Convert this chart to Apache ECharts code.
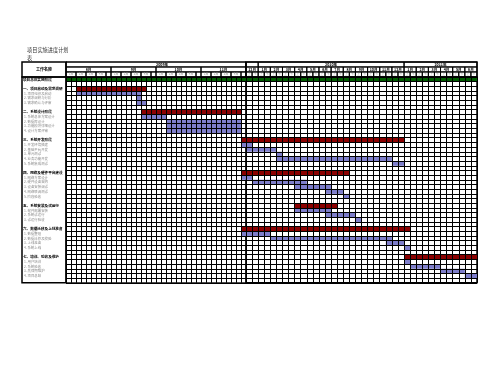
<!DOCTYPE html>
<html><head><meta charset="utf-8">
<script src="https://cdn.jsdelivr.net/npm/echarts@6/dist/echarts.min.js"></script>
<style>html,body{margin:0;padding:0;background:#fff}#c{width:495px;height:383px}</style>
</head><body><div id="c"></div>
<script>
// ---------------- data ----------------
const titleLine1 = '项目实施进度计划';
const titleLine2 = '表';
const headerLabel = '工作名称';
const yearLabels = ['2009年', '2010年', '2011年'];
const monthsPerYear = [5, 12, 6];
const monthLabels = ['8月','9月','10月','11月','12月',
  '1月','2月','3月','4月','5月','6月','7月','8月','9月','10月','11月','12月',
  '1月','2月','3月','4月','5月','6月'];
const colsPerMonth = [9,9,9,9, 2,2,2,2,2,2,2,2,2,2,2,2,2,2,2,2,2,2,2];
const detailWeekLabels = ['1周','2周','3周','4周',''];
const detailWeekSpans = [2,2,2,2,1];
const halfMonthLabels = ['上','下'];

const rowLabels = [
  '项目总体实施阶段', '',
  '一、项目启动及需求调研', '1. 项目组织及启动', '2. 需求调研与分析', '3. 需求确认与评审', '',
  '二、系统设计阶段', '1. 系统总体方案设计', '2. 数据库设计', '3. 功能模块详细设计', '4. 设计方案评审', '',
  '三、系统开发阶段', '1. 开发环境搭建', '2. 基础平台开发', '3. 单元测试', '4. 业务功能开发', '5. 系统集成测试', '',
  '四、网络及硬件平台建设', '1. 网络方案设计', '2. 硬件设备采购', '3. 设备安装调试', '4. 网络联调测试', '5. 阶段验收', '',
  '五、系统安装及试运行', '1. 软件部署安装', '2. 系统试运行', '3. 试运行验收', '',
  '六、数据迁移及上线准备', '1. 数据整理', '2. 数据迁移及校验', '3. 上线准备', '4. 系统上线', '',
  '七、培训、验收及维护', '1. 用户培训', '2. 系统验收', '3. 质保期维护', '4. 项目总结', ''
];
// 0 = phase, 1 = group, 2 = task, -1 = blank
const rowKinds = [0,-1, 1,2,2,2,-1, 1,2,2,2,2,-1, 1,2,2,2,2,2,-1, 1,2,2,2,2,2,-1, 1,2,2,2,-1, 1,2,2,2,2,-1, 1,2,2,2,2,-1];
const barStart = [0,null, 2,2,14,14,null, 15,15,20,20,20,null, 35,35,36,41,41,60,null, 35,35,37,44,49,52,null, 44,44,49,54,null, 35,35,40,59,62,null, 62,62,63,68,72,null];
const barEnd   = [74,null, 16,15,15,16,null, 35,20,35,35,35,null, 62,37,41,42,60,62,null, 53,37,46,50,52,53,null, 51,50,54,55,null, 63,40,60,62,63,null, 74,63,68,72,74,null];

// ---------------- layout / style ----------------
const barColors = ['#005c00', '#8b0000', '#7e7ecb'];
const FONT = 'Noto Sans CJK SC';
const nRows = rowLabels.length;
const totalCols = colsPerMonth.reduce((a, b) => a + b, 0);
const detailCols = colsPerMonth.slice(0, 4).reduce((a, b) => a + b, 0);
const coarseCols = totalCols - detailCols;

function splitSpan(s, e) {
  const out = [];
  if (s < detailCols) out.push({ g: 0, s: s, e: Math.min(e, detailCols) });
  if (e > detailCols) out.push({ g: 1, s: Math.max(s, detailCols) - detailCols, e: e - detailCols });
  return out;
}

const barData = [[], []];
rowKinds.forEach((k, i) => {
  if (k < 0) return;
  splitSpan(barStart[i], barEnd[i]).forEach(p => barData[p.g].push([i, p.s, p.e, k]));
});

const headData = [[], []];
let c = 0;
monthLabels.forEach((m, i) => {
  splitSpan(c, c + colsPerMonth[i]).forEach(p => headData[p.g].push([1, p.s, p.e, m, 1]));
  if (colsPerMonth[i] > 2) {
    let w = c;
    detailWeekLabels.forEach((wl, j) => {
      splitSpan(w, w + detailWeekSpans[j]).forEach(p => headData[p.g].push([2, p.s, p.e, wl, 2]));
      w += detailWeekSpans[j];
    });
  } else {
    halfMonthLabels.forEach((hl, j) => {
      splitSpan(c + j, c + j + 1).forEach(p => headData[p.g].push([2, p.s, p.e, hl, 2]));
    });
  }
  c += colsPerMonth[i];
});
const yearSpans = [];
let mi = 0; c = 0;
monthsPerYear.forEach((n) => {
  const s = c;
  for (let k = 0; k < n; k++) { c += colsPerMonth[mi++]; }
  yearSpans.push([s, c]);
  splitSpan(s, c).forEach(p => headData[p.g].push([0, p.s, p.e, '', 0]));
});

const labelData = rowLabels.map((l, i) => [i, l, rowKinds[i]]);

function renderBar(params, api) {
  const row = api.value(0), s = api.value(1), e = api.value(2), k = api.value(3);
  const p0 = api.coord([s, row]);
  const p1 = api.coord([e, row + 1]);
  return { type: 'rect', shape: { x: p0[0], y: p0[1], width: p1[0] - p0[0], height: p1[1] - p0[1] },
           style: { fill: barColors[k] } };
}
function makeHeadRender(data) {
  return function (params, api) {
    const d = data[params.dataIndex];
    const row = d[0], s = d[1], e = d[2], label = d[3], st = d[4];
    const p0 = api.coord([s, row]);
    const p1 = api.coord([e, row + 1]);
    const children = [{ type: 'rect', shape: { x: p0[0], y: p0[1], width: p1[0] - p0[0], height: p1[1] - p0[1] },
      style: { fill: 'none', stroke: '#000', lineWidth: 1 } }];
    if (label) {
      children.push({ type: 'text', style: { text: label, x: (p0[0] + p1[0]) / 2, y: (p0[1] + p1[1]) / 2,
        align: 'center', verticalAlign: 'middle', fontFamily: FONT,
        fontSize: st === 1 ? 3.6 : 2.8, fontWeight: st === 1 ? 'bold' : 'normal',
        fill: st === 1 ? '#000' : '#999' } });
    }
    return { type: 'group', children: children };
  };
}
function renderLabel(params, api) {
  const row = api.value(0);
  const d = labelData[params.dataIndex];
  const k = d[2];
  if (k < 0) return null;
  const p = api.coord([0, row + 0.5]);
  return { type: 'text', style: { text: d[1], x: p[0] + (k === 2 ? 2 : 1), y: p[1], align: 'left', verticalAlign: 'middle',
    fontFamily: FONT, fontSize: k === 2 ? 3.4 : 3.6, fontWeight: k === 2 ? 'normal' : 'bold',
    fill: k === 2 ? '#8c8c8c' : '#000' } };
}
function renderHeaderLabel(params, api) {
  const p = api.coord([0.5, 0.5]);
  return { type: 'text', style: { text: headerLabel, x: p[0], y: p[1], align: 'center', verticalAlign: 'middle',
    fontFamily: FONT, fontSize: 4, fontWeight: 'bold', fill: '#000' } };
}

const GL = 22, GA = 66, GB = 246, GR = 477;
const TOP = 62, BODY = 76.9, BOT = 282.8;
const hidden = { axisLabel: { show: false }, axisTick: { show: false }, axisLine: { show: false } };
const grid = { color: '#000', width: 1 };

const chart = echarts.init(document.getElementById('c'), null, { renderer: 'canvas' });
chart.setOption({
  animation: false,
  backgroundColor: '#fff',
  title: [
    { text: titleLine1, left: 22, top: 42, textStyle: { fontFamily: FONT, fontSize: 5.2, fontWeight: 'normal', color: '#333' } },
    { text: titleLine2, left: 22, top: 50, textStyle: { fontFamily: FONT, fontSize: 5.2, fontWeight: 'normal', color: '#333' } }
  ],
  grid: [
    { left: GA, top: BODY, width: GB - GA, height: BOT - BODY, show: true, borderColor: '#000', borderWidth: 1 },
    { left: GB, top: BODY, width: GR - GB, height: BOT - BODY, show: true, borderColor: '#000', borderWidth: 1.5 },
    { left: GA, top: TOP, width: GB - GA, height: BODY - TOP, show: true, borderColor: '#000', borderWidth: 1 },
    { left: GB, top: TOP, width: GR - GB, height: BODY - TOP, show: true, borderColor: '#000', borderWidth: 1.5 },
    { left: GL, top: BODY, width: GA - GL, height: BOT - BODY, show: true, borderColor: '#000', borderWidth: 1.5 },
    { left: GL, top: TOP, width: GA - GL, height: BODY - TOP, show: true, borderColor: '#000', borderWidth: 1.5 }
  ],
  xAxis: [
    Object.assign({ gridIndex: 0, type: 'value', min: 0, max: detailCols, interval: 1, z: 10, splitLine: { show: true, lineStyle: grid } }, hidden),
    Object.assign({ gridIndex: 1, type: 'value', min: 0, max: coarseCols, interval: 1, z: 10, splitLine: { show: true, lineStyle: grid } }, hidden),
    Object.assign({ gridIndex: 2, type: 'value', min: 0, max: detailCols, splitLine: { show: false } }, hidden),
    Object.assign({ gridIndex: 3, type: 'value', min: 0, max: coarseCols, splitLine: { show: false } }, hidden),
    Object.assign({ gridIndex: 4, type: 'value', min: 0, max: 1, splitLine: { show: false } }, hidden),
    Object.assign({ gridIndex: 5, type: 'value', min: 0, max: 1, splitLine: { show: false } }, hidden)
  ],
  yAxis: [
    Object.assign({ gridIndex: 0, type: 'value', min: 0, max: nRows, interval: 1, inverse: true, z: 10, splitLine: { show: true, lineStyle: grid } }, hidden),
    Object.assign({ gridIndex: 1, type: 'value', min: 0, max: nRows, interval: 1, inverse: true, z: 10, splitLine: { show: true, lineStyle: grid } }, hidden),
    Object.assign({ gridIndex: 2, type: 'value', min: 0, max: 3, inverse: true, splitLine: { show: false } }, hidden),
    Object.assign({ gridIndex: 3, type: 'value', min: 0, max: 3, inverse: true, splitLine: { show: false } }, hidden),
    Object.assign({ gridIndex: 4, type: 'value', min: 0, max: nRows, inverse: true, splitLine: { show: false } }, hidden),
    Object.assign({ gridIndex: 5, type: 'value', min: 0, max: 1, inverse: true, splitLine: { show: false } }, hidden)
  ],
  series: [
    { type: 'custom', xAxisIndex: 0, yAxisIndex: 0, data: barData[0], renderItem: renderBar, z: 1 },
    { type: 'custom', xAxisIndex: 1, yAxisIndex: 1, data: barData[1], renderItem: renderBar, z: 1 },
    { type: 'custom', xAxisIndex: 2, yAxisIndex: 2, data: headData[0].map(d => [d[0], d[1], d[2]]), renderItem: makeHeadRender(headData[0]) },
    { type: 'custom', xAxisIndex: 3, yAxisIndex: 3, data: headData[1].map(d => [d[0], d[1], d[2]]), renderItem: makeHeadRender(headData[1]) },
    { type: 'custom', xAxisIndex: 4, yAxisIndex: 4, data: labelData.map(d => [d[0]]), renderItem: renderLabel },
    { type: 'custom', xAxisIndex: 5, yAxisIndex: 5, data: [[0]], renderItem: renderHeaderLabel }
  ]
});

function colToPx(col) {
  return col <= detailCols ? chart.convertToPixel({ xAxisIndex: 2 }, col)
                           : chart.convertToPixel({ xAxisIndex: 3 }, col - detailCols);
}
const yMid = chart.convertToPixel({ yAxisIndex: 2 }, 0.5);
chart.setOption({
  graphic: yearSpans.map((sp, i) => ({
    type: 'text', x: (colToPx(sp[0]) + colToPx(sp[1])) / 2, y: yMid,
    style: { text: yearLabels[i], align: 'center', verticalAlign: 'middle', fontFamily: FONT, fontSize: 3.6, fontWeight: 'bold', fill: '#000' }
  }))
});
</script></body></html>
